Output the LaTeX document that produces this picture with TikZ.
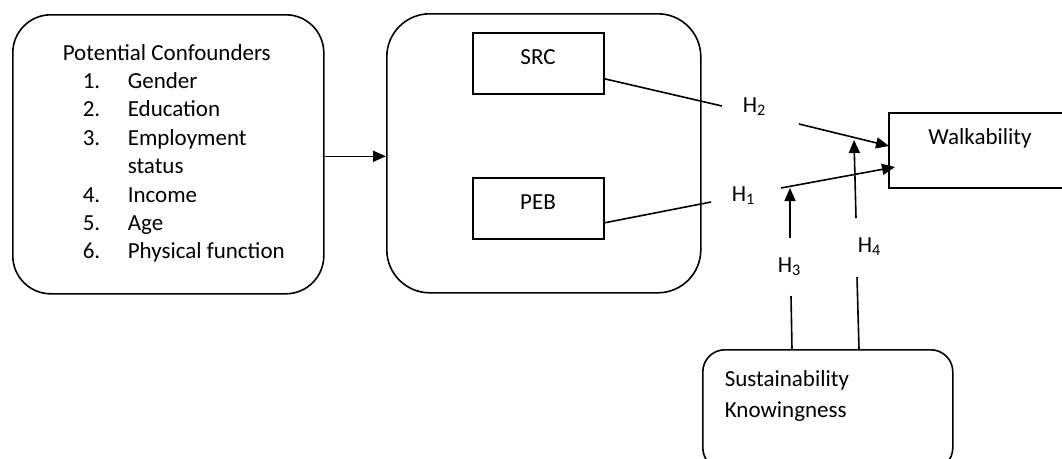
\documentclass[tikz,border=0pt]{standalone}
\usepackage{fontspec}
\setmainfont{Carlito}
\usetikzlibrary{arrows.meta}
\begin{document}
\begin{tikzpicture}[x=1pt,y=-1pt,line width=1.6pt,
  box/.style={draw,line width=1.6pt,inner sep=0pt,anchor=north west},
  txt/.style={font=\fontsize{23}{28}\selectfont,inner sep=0pt,anchor=base west},
  arr/.style={-{Triangle[length=13pt,width=11pt]}}]
\clip (0,0) rectangle (1062,458);
% boxes
\node[box,rounded corners=38pt,minimum width=311pt,minimum height=279pt] (conf) at (12,14) {};
\node[box,rounded corners=43pt,minimum width=314pt,minimum height=279pt] (mid) at (386,13) {};
\node[box,minimum width=131pt,minimum height=61pt] (src) at (472,32) {};
\node[box,minimum width=131pt,minimum height=61pt] (peb) at (472,177) {};
\node[box,minimum width=190pt,minimum height=75pt] (walk) at (888,112) {};
\node[box,rounded corners=22pt,minimum width=250pt,minimum height=120pt] (sust) at (702,349) {};
% texts
\node[txt] (t0) at (62,60) {Potential Confounders};
\node[txt] (n1) at (82,88.4) {1.};
\node[txt] (i1) at (127,88.4) {Gender};
\node[txt] (n2) at (82,116.8) {2.};
\node[txt] (i2) at (127,116.8) {Education};
\node[txt] (n3) at (82,145.2) {3.};
\node[txt] (i3) at (127,145.2) {Employment};
\node[txt] (i3b) at (127,173.6) {status};
\node[txt] (n4) at (82,202) {4.};
\node[txt] (i4) at (127,202) {Income};
\node[txt] (n5) at (82,230.4) {5.};
\node[txt] (i5) at (127,230.4) {Age};
\node[txt] (n6) at (82,258.8) {6.};
\node[txt] (i6) at (127,258.8) {Physical function};
\node[txt,anchor=base] (srct) at (538,64.5) {SRC};
\node[txt,anchor=base] (pebt) at (538,209.5) {PEB};
\node[txt,anchor=base] (walkt) at (980,144.5) {Walkability};
\node[txt] (s1) at (724,386) {Sustainability};
\node[txt] (s2) at (724,417) {Knowingness};
\node[txt] (h2) at (742,112) {H\textsubscript{2}};
\node[txt] (h1) at (731,201) {H\textsubscript{1}};
\node[txt] (h3) at (777,272) {H\textsubscript{3}};
\node[txt] (h4) at (857,252) {H\textsubscript{4}};
% coordinates
\coordinate (c2a) at (722,106);
\coordinate (c2b) at (799,124);
\coordinate (c2t) at (889,146);
\coordinate (c1a) at (711,202);
\coordinate (c1b) at (781,188);
\coordinate (c1t) at (895,167);
\coordinate (c3a) at (790,238);
\coordinate (c3b) at (791,296);
\coordinate (c4a) at (856,218);
\coordinate (c4t) at (854,140);
\coordinate (c4b) at (857,277);
% connectors
\draw[arr] ([yshift=-2pt]conf.east) -- ([yshift=-2pt]conf.east -| mid.west);
\draw ([yshift=-15.5pt]src.east) -- (c2a);
\draw[arr] (c2b) -- (c2t);
\draw ([yshift=-14.5pt]peb.east) -- (c1a);
\draw[arr] (c1b) -- (c1t);
\draw[arr] (c3a) -- (c1b -| c3a);
\draw (c3b) -- ([xshift=1pt]c3b |- sust.north);
\draw[arr] (c4a) -- (c4t);
\draw (c4b) -- ([xshift=2pt]c4b |- sust.north);
\end{tikzpicture}
\end{document}
